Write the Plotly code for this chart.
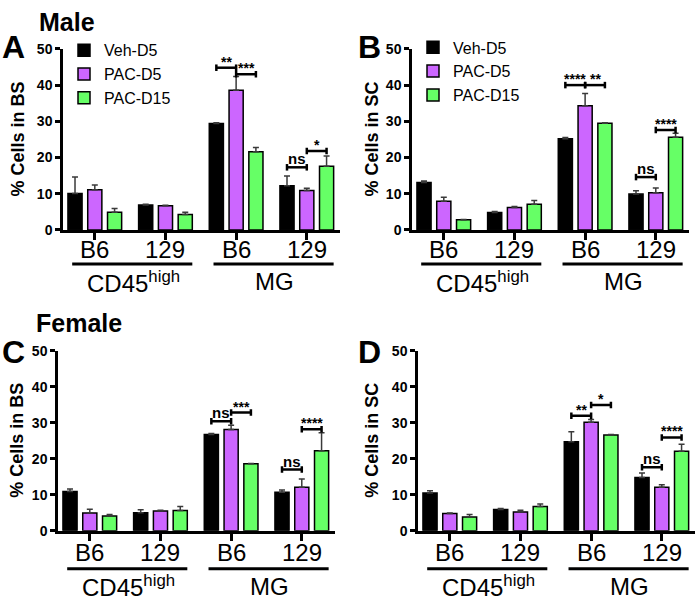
import plotly.graph_objects as go

W, H = 697, 603
FONT = "Liberation Sans, Arial, sans-serif"

# ---------------- data ----------------
strains = ["B6", "129", "B6", "129"]
series_names = ["Veh-D5", "PAC-D5", "PAC-D15"]
series_colors = ["#000000", "#CC66FF", "#66FF66"]
cell_groups = ["CD45<sup>high</sup>", "MG"]

# Panel A  (Male, % Cells in BS)
a_veh = [10.1, 6.9, 29.4, 12.2]
a_veh_err = [4.5, 0.2, 0.2, 2.7]
a_pac5 = [11.1, 6.7, 38.6, 10.9]
a_pac5_err = [1.3, 0.1, 3.8, 0.6]
a_pac15 = [4.9, 4.3, 21.6, 17.6]
a_pac15_err = [1.0, 0.6, 1.2, 2.8]
a_sig = [(2, 0, 1, 44.8, "**"), (2, 1, 2, 43.0, "***"), (3, 0, 1, 17.3, "ns"), (3, 1, 2, 21.8, "*")]

# Panel B  (Male, % Cells in SC)
b_veh = [13.1, 4.8, 25.2, 9.9]
b_veh_err = [0.4, 0.3, 0.3, 0.9]
b_pac5 = [7.9, 6.2, 34.3, 10.3]
b_pac5_err = [1.1, 0.3, 3.4, 1.3]
b_pac15 = [2.8, 7.1, 29.5, 25.6]
b_pac15_err = [0.1, 1.0, 0.1, 1.1]
b_sig = [(2, 0, 1, 40.0, "****"), (2, 1, 2, 40.0, "**"), (3, 0, 1, 14.6, "ns"), (3, 1, 2, 27.6, "****")]

# Panel C  (Female, % Cells in BS)
c_veh = [10.9, 5.0, 26.7, 10.7]
c_veh_err = [0.7, 0.8, 0.3, 0.6]
c_pac5 = [4.9, 5.5, 28.1, 12.1]
c_pac5_err = [1.1, 0.2, 1.2, 2.3]
c_pac15 = [4.1, 5.6, 18.6, 22.2]
c_pac15_err = [0.4, 1.1, 0.1, 5.0]
c_sig = [(2, 0, 1, 30.4, "ns"), (2, 1, 2, 32.8, "***"), (3, 0, 1, 17.0, "ns"), (3, 1, 2, 28.2, "****")]

# Panel D  (Female, % Cells in SC)
d_veh = [10.5, 5.9, 24.7, 14.8]
d_veh_err = [0.6, 0.3, 2.8, 1.2]
d_pac5 = [4.8, 5.2, 30.1, 12.1]
d_pac5_err = [0.1, 0.5, 0.8, 0.7]
d_pac15 = [3.8, 6.7, 26.6, 22.1]
d_pac15_err = [0.7, 0.7, 0.1, 1.9]
d_sig = [(2, 0, 1, 31.9, "**"), (2, 1, 2, 34.9, "*"), (3, 0, 1, 17.6, "ns"), (3, 1, 2, 25.9, "****")]

y_ticks = [0, 10, 20, 30, 40, 50]

# ---------------- layout geometry (pixels) ----------------
XR = [-0.45, 3.47]
YR = [0, 50]
OFF = 0.28
BW = 0.2

panels = [
    dict(letter="A", lpos=(14, 40), ytitle="% Cells in BS", tx=18,
         vals=[a_veh, a_pac5, a_pac15], errs=[a_veh_err, a_pac5_err, a_pac15_err], sig=a_sig,
         x0=63, x1=340, ytop=42, ybot=228, cat_dy=20, line_dy=35, grp_dy=53, legend="legend"),
    dict(letter="B", lpos=(369, 40), ytitle="% Cells in SC", tx=372,
         vals=[b_veh, b_pac5, b_pac15], errs=[b_veh_err, b_pac5_err, b_pac15_err], sig=b_sig,
         x0=412, x1=689, ytop=42, ybot=228, cat_dy=20, line_dy=35, grp_dy=53, legend="legend2"),
    dict(letter="C", lpos=(14, 353), ytitle="% Cells in BS", tx=17,
         vals=[c_veh, c_pac5, c_pac15], errs=[c_veh_err, c_pac5_err, c_pac15_err], sig=c_sig,
         x0=58, x1=335, ytop=352, ybot=537, cat_dy=22, line_dy=39, grp_dy=57, legend=None),
    dict(letter="D", lpos=(369, 353), ytitle="% Cells in SC", tx=372,
         vals=[d_veh, d_pac5, d_pac15], errs=[d_veh_err, d_pac5_err, d_pac15_err], sig=d_sig,
         x0=418, x1=695, ytop=352, ybot=537, cat_dy=22, line_dy=39, grp_dy=57, legend=None),
]


def px(x):
    return x / W


def py(y):
    return 1 - y / H


fig = go.Figure()
shapes = []
annotations = []
layout_axes = {}

for k, p in enumerate(panels):
    n = "" if k == 0 else str(k + 1)
    xa, ya = "x" + n, "y" + n
    xk, yk = "xaxis" + n, "yaxis" + n
    for j in range(3):
        xs = [g + (j - 1) * OFF for g in range(len(strains))]
        fig.add_trace(go.Bar(
            x=xs, y=p["vals"][j], width=BW, name=series_names[j],
            marker=dict(color=series_colors[j], line=dict(color="#000000", width=1.5)),
            error_y=dict(type="data", symmetric=False, array=p["errs"][j],
                         arrayminus=[0] * 4, color="#3a3a3a", thickness=1.5, width=3),
            xaxis=xa, yaxis=ya,
            showlegend=p["legend"] is not None,
            legend=p["legend"] if p["legend"] else "legend",
        ))
    layout_axes[xk] = dict(
        domain=[px(p["x0"]), px(p["x1"])], range=XR, anchor=ya,
        showline=True, linecolor="#000000", linewidth=2.5, showgrid=False, zeroline=False,
        tickmode="array", tickvals=list(range(4)), showticklabels=False,
        ticks="outside", ticklen=7, tickwidth=2.5, tickcolor="#000000",
    )
    layout_axes[yk] = dict(
        domain=[py(p["ybot"]), py(p["ytop"])], range=YR, anchor=xa,
        showline=True, linecolor="#000000", linewidth=2.5, showgrid=False, zeroline=False,
        tickmode="array", tickvals=y_ticks,
        ticks="outside", ticklen=5, tickwidth=2.5, tickcolor="#000000",
        tickfont=dict(family=FONT, size=14, color="#000000", weight="bold"),
    )
    hpx = p["ybot"] - p["ytop"]
    span = XR[1] - XR[0]
    # strain (category) labels
    for gi, s in enumerate(strains):
        annotations.append(dict(text=s, xref=xa, yref=ya + " domain", x=gi,
                                y=-p["cat_dy"] / hpx, yanchor="middle", showarrow=False,
                                font=dict(family=FONT, size=24, color="#000000")))
    # group underlines and group labels
    for gi, gname in enumerate(cell_groups):
        ga, gb = 2 * gi, 2 * gi + 1
        xl = (ga - 0.32 - XR[0]) / span
        xr = (gb + 0.38 - XR[0]) / span
        yl = -p["line_dy"] / hpx
        shapes.append(dict(type="line", xref=xa + " domain", yref=ya + " domain",
                           x0=xl, x1=xr, y0=yl, y1=yl,
                           line=dict(color="#000000", width=3)))
        annotations.append(dict(text=gname, xref=xa, yref=ya + " domain",
                                x=(ga + gb) / 2 + 0.05, y=-p["grp_dy"] / hpx, yanchor="middle",
                                showarrow=False,
                                font=dict(family=FONT, size=24, color="#000000")))
    # significance brackets
    cap = 0.9
    for (g, i1, i2, yv, lab) in p["sig"]:
        xa0 = g + (i1 - 1) * OFF
        xa1 = g + (i2 - 1) * OFF
        for seg in [(xa0, yv, xa1, yv), (xa0, yv - cap, xa0, yv + cap), (xa1, yv - cap, xa1, yv + cap)]:
            shapes.append(dict(type="line", xref=xa, yref=ya,
                               x0=seg[0], y0=seg[1], x1=seg[2], y1=seg[3],
                               line=dict(color="#000000", width=2.5)))
        annotations.append(dict(text=lab, xref=xa, yref=ya, x=(xa0 + xa1) / 2, y=yv,
                                yanchor="bottom", showarrow=False,
                                yshift=-2 if lab == "ns" else -4,
                                font=dict(family=FONT, size=15 if lab == "ns" else 14,
                                          color="#000000", weight="bold")))
    # y axis title
    annotations.append(dict(text=p["ytitle"], xref="paper", yref="paper",
                            x=px(p["tx"]), y=py((p["ytop"] + p["ybot"]) / 2),
                            textangle=-90, showarrow=False, xanchor="center", yanchor="middle",
                            font=dict(family=FONT, size=18, color="#000000", weight="bold")))
    lx, ly = p["lpos"]
    annotations.append(dict(text=p["letter"], xref="paper", yref="paper",
                            x=px(lx), y=py(ly), showarrow=False,
                            xanchor="center", yanchor="middle",
                            font=dict(family=FONT, size=32, color="#000000", weight="bold")))

annotations.append(dict(text="Male", xref="paper", yref="paper", x=px(37), y=1.0,
                        xanchor="left", yanchor="top", yshift=2, showarrow=False,
                        font=dict(family=FONT, size=25, color="#000000", weight="bold")))
annotations.append(dict(text="Female", xref="paper", yref="paper", x=px(34), y=py(324),
                        xanchor="left", yanchor="middle", showarrow=False,
                        font=dict(family=FONT, size=25, color="#000000", weight="bold")))

legend_common = dict(xanchor="left", yanchor="top", bgcolor="rgba(0,0,0,0)",
                     font=dict(family=FONT, size=16, color="#000000"),
                     tracegroupgap=0, itemclick=False)

fig.update_layout(
    width=W, height=H,
    margin=dict(l=0, r=0, t=0, b=0),
    paper_bgcolor="#FFFFFF", plot_bgcolor="#FFFFFF",
    barmode="overlay",
    shapes=shapes, annotations=annotations,
    legend=dict(x=px(64), y=py(26), **legend_common),
    legend2=dict(x=px(413), y=py(23), **legend_common),
    font=dict(family=FONT, color="#000000"),
    **layout_axes,
)

fig.write_html("out.html", config={"displayModeBar": False},
               post_script="document.body.style.margin='0';")
